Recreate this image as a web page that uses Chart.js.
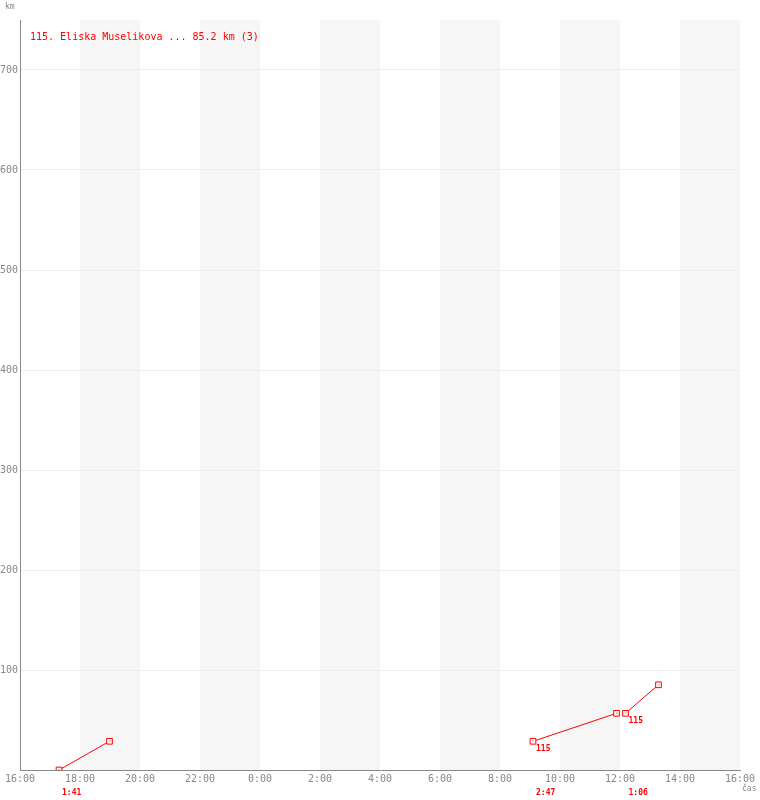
<!DOCTYPE html>
<html>
<head>
<meta charset="utf-8">
<script src="https://cdn.jsdelivr.net/npm/chart.js@4.4.0/dist/chart.umd.min.js"></script>
<style>
  html, body { margin: 0; padding: 0; background: #fff; }
  canvas { display: block; }
</style>
</head>
<body>
<canvas id="c" width="760" height="800"></canvas>
<script>
// minuty od 16:00, hodnoty v km
const TITLE = '115. Eliska Muselikova ... 85.2 km (3)';
const RUNNER = '115';
const seg1Time = [78, 179];
const seg1Km = [0, 28.7];
const seg2Time = [1026, 1193];
const seg2Km = [28.7, 56.7];
const seg3Time = [1211, 1277];
const seg3Km = [56.7, 85.2];
const durations = ['1:41', '2:47', '1:06'];
const showRunnerLabel = [false, true, true];
const bandStarts = [120, 360, 600, 840, 1080, 1320]; // šedé pruhy po 2 h
const Y_TICKS = [100, 200, 300, 400, 500, 600, 700];

const RED = '#ff0000';
const GRAY = '#888888';
const MONO = '"DejaVu Sans Mono", "Liberation Mono", monospace';

const toPts = (t, v) => t.map((x, i) => ({ x, y: v[i] }));
const segs = [toPts(seg1Time, seg1Km), toPts(seg2Time, seg2Km), toPts(seg3Time, seg3Km)];

const fmtTime = (m) => `${Math.floor((16 + m / 60) % 24)}:00`;

const bandsPlugin = {
  id: 'bands',
  beforeDraw(chart) {
    const { ctx, chartArea: a, scales: { x } } = chart;
    ctx.save();
    ctx.fillStyle = '#fff';
    ctx.fillRect(0, 0, chart.width, chart.height);
    ctx.fillStyle = '#f6f6f6';
    for (const b of bandStarts) {
      const x0 = x.getPixelForValue(b);
      const x1 = x.getPixelForValue(b + 120);
      ctx.fillRect(x0, a.top, x1 - x0, a.bottom - a.top);
    }
    ctx.restore();
  },
};

const textPlugin = {
  id: 'texts',
  afterDatasetsDraw(chart) {
    const { ctx, chartArea: a } = chart;
    ctx.save();
    // tečka uprostřed čtverečků
    ctx.fillStyle = RED;
    chart.data.datasets.forEach((_, di) => {
      chart.getDatasetMeta(di).data.forEach(p => {
        ctx.fillRect(Math.round(p.x) - 0.5, Math.round(p.y) - 0.5, 1, 1);
      });
    });

    ctx.textBaseline = 'top';
    ctx.textAlign = 'left';
    ctx.fillStyle = RED;
    ctx.font = `10px ${MONO}`;
    ctx.fillText(TITLE, a.left + 10, a.top + 12);

    ctx.font = `bold 8px ${MONO}`;
    segs.forEach((s, i) => {
      const p = chart.getDatasetMeta(i).data[0];
      if (showRunnerLabel[i]) ctx.fillText(RUNNER, p.x + 3, p.y + 4);
      ctx.fillText(durations[i], p.x + 3, a.bottom + 19);
    });

    ctx.fillStyle = GRAY;
    ctx.font = `8px ${MONO}`;
    ctx.fillText('km', 5, 3);
    ctx.fillText('čas', a.right + 2, a.bottom + 15);
    ctx.restore();
  },
};

new Chart(document.getElementById('c'), {
  type: 'line',
  data: {
    datasets: segs.map(s => ({
      data: s,
      borderColor: RED,
      borderWidth: 1,
      pointStyle: 'rect',
      pointRadius: 4,
      pointBorderWidth: 1,
      pointBorderColor: RED,
      pointBackgroundColor: '#fff',
      tension: 0,
    })),
  },
  options: {
    responsive: false,
    animation: false,
    layout: { padding: { top: 20, right: 20, left: 0, bottom: 0 } },
    plugins: { legend: { display: false }, tooltip: { enabled: false } },
    scales: {
      x: {
        type: 'linear',
        min: 0,
        max: 1440,
        afterFit: (s) => { s.height = 30; },
        grid: { display: false, drawTicks: false },
        border: { color: GRAY, width: 1 },
        ticks: {
          stepSize: 120,
          autoSkip: false,
          maxRotation: 0,
          padding: 3,
          color: GRAY,
          font: { family: MONO, size: 10 },
          callback: (v) => fmtTime(v),
        },
      },
      y: {
        min: 0,
        max: 750,
        afterFit: (s) => { s.width = 20; },
        afterBuildTicks: (s) => { s.ticks = [0, ...Y_TICKS].map(v => ({ value: v })); },
        grid: {
          drawTicks: false,
          color: (c) => (c.tick && c.tick.value === 0 ? 'rgba(0,0,0,0)' : '#eeeeee'),
        },
        border: { color: GRAY, width: 1 },
        ticks: {
          padding: 2,
          color: GRAY,
          font: { family: MONO, size: 10 },
          callback: (v) => (v === 0 ? '' : String(v)),
        },
      },
    },
  },
  plugins: [bandsPlugin, textPlugin],
});
</script>
</body>
</html>
